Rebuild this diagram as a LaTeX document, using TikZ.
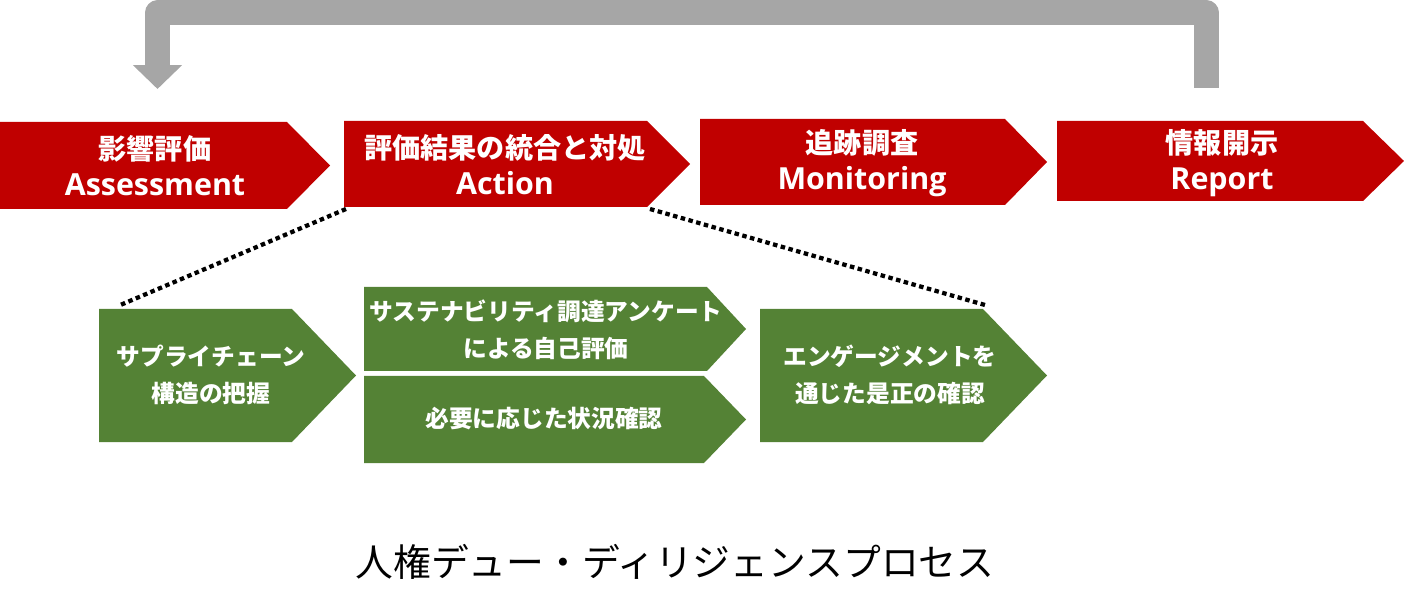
\documentclass[tikz,border=0pt]{standalone}
\usepackage{fontspec}
\setmainfont{Noto Sans CJK JP}
\newfontfamily\lat{Open Sans}
\usetikzlibrary{arrows.meta}
\definecolor{redc}{HTML}{C00000}
\definecolor{greenc}{HTML}{548235}
\definecolor{grayc}{HTML}{A6A6A6}
\newcommand\latbig{\lat\fontsize{17.3}{20.5}\selectfont}
\begin{document}
\begin{tikzpicture}[x=0.02cm,y=-0.02cm,
  redlbl/.style={text=white,font=\bfseries\fontsize{16}{20.5}\selectfont,align=center,inner sep=0pt},
  greenlbl/.style={text=white,font=\bfseries\fontsize{13.5}{20.8}\selectfont,align=center,inner sep=0pt},
  dotline/.style={line width=0.085cm,dash pattern=on 0.09cm off 0.07cm},
  loop/.style={grayc,line width=0.5cm,line join=round,-{Triangle[width=0.96cm,length=0.48cm]}}]
\useasboundingbox (0,0) rectangle (1404,611);
% red chevrons
\fill[redc] (0,122) -- (287,122) -- (330,165.5) -- (287,209) -- (0,209) -- cycle;
\fill[redc] (344,121) -- (647,121) -- (690,164) -- (647,207) -- (344,207) -- cycle;
\fill[redc] (700,119) -- (1005,119) -- (1047,162) -- (1005,205) -- (700,205) -- cycle;
\fill[redc] (1057,121) -- (1363,121) -- (1404,161) -- (1363,201) -- (1057,201) -- cycle;
\node[redlbl] (a1) at (155,166) {影響評価\\{\latbig Assessment}};
\node[redlbl] (a2) at (505,165) {評価結果の統合と対処\\{\latbig Action}};
\node[redlbl] (a3) at (862,163) {追跡調査\\{\latbig Monitoring}};
\node[redlbl] (a4) at (1222,163) {情報開示\\{\latbig Report}};
% green chevrons
\fill[greenc] (99,309) -- (292,309) -- (356,375.5) -- (292,442) -- (99,442) -- cycle;
\fill[greenc] (364,287) -- (707,287) -- (746,329) -- (707,371) -- (364,371) -- cycle;
\fill[greenc] (364,376) -- (704,376) -- (746,419.5) -- (704,463) -- (364,463) -- cycle;
\fill[greenc] (760,309) -- (983,309) -- (1047,375.5) -- (983,442) -- (760,442) -- cycle;
\node[greenlbl] (g1) at (211,375) {サプライチェーン\\構造の把握};
\node[greenlbl] (g2a) at (546,330) {サステナビリティ調達アンケート\\による自己評価};
\node[greenlbl] (g2b) at (544,419) {必要に応じた状況確認};
\node[greenlbl] (g3) at (890,375) {エンゲージメントを\\通じた是正の確認};
% connectors
\coordinate (a2bl) at (346,209);
\coordinate (a2br) at (650,209);
\coordinate (g1t) at (118,306);
\coordinate (g3t) at (985,305);
\draw[dotline] (a2bl) -- (g1t);
\draw[dotline] (a2br) -- (g3t);
\coordinate (gs) at (1206.5,88);
\coordinate (ge) at (157.5,89);
\coordinate (topl) at (0,13);
\draw[loop] (gs) -- (gs |- topl) -- (ge |- topl) -- (ge);
% caption
\node[font=\fontsize{21.5}{25}\selectfont,inner sep=0pt] (cap) at (675,562) {人権デュー・ディリジェンスプロセス};
\end{tikzpicture}
\end{document}
